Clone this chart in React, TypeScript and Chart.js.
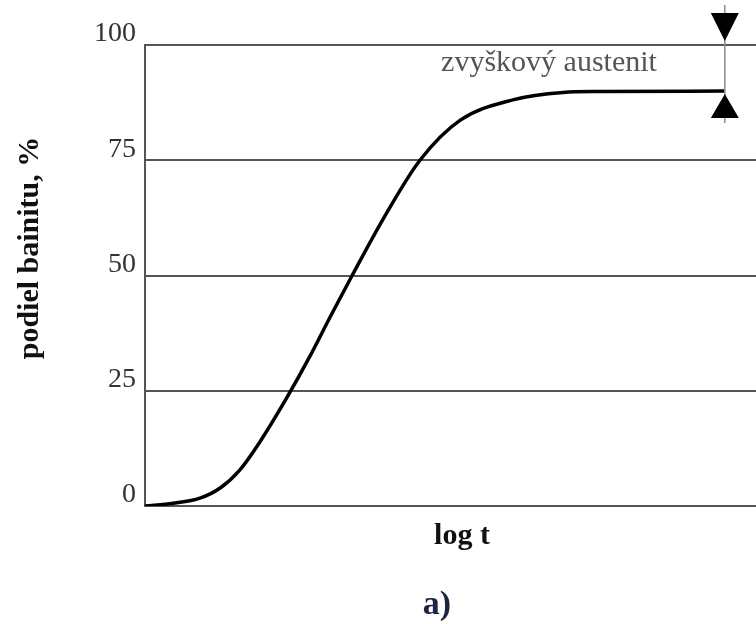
import React, { useEffect, useRef } from "react";
import { Chart, registerables } from "chart.js";

Chart.register(...registerables);

// log t (arbitrary units) and bainite fraction (%)
const logT = [0, 0.46, 0.9, 1.23, 1.55, 1.88, 2.3, 2.7, 3.03, 3.39, 3.93, 4.5, 5.16, 6.02, 6.84, 7.45, 9.49];
const bainite = [0, 0.6, 1.7, 3.9, 7.8, 13.9, 23, 32.5, 41, 50, 63, 75, 83.7, 88.1, 89.7, 89.9, 90];
const yTicks = [0, 25, 50, 75, 100];
const residualX = 9.49;
const residualFrom = 90;
const residualTo = 100;
const residualLabel = "zvyškový austenit";
const yTitle = "podiel bainitu, %";
const xTitle = "log t";
const panelLabel = "a)";

const SERIF = '"Liberation Serif", "Times New Roman", serif';

export default function App() {
  const ref = useRef<HTMLCanvasElement | null>(null);

  useEffect(() => {
    document.body.style.margin = "0";
    const canvas = ref.current;
    if (!canvas) return;

    const overlay = {
      id: "overlay",
      afterDraw(chart: any) {
        const { ctx, chartArea, scales } = chart;
        const xs = scales.x;
        const ys = scales.y;
        ctx.save();
        // residual austenite dimension arrow
        const ax = xs.getPixelForValue(residualX);
        const yTop = ys.getPixelForValue(residualTo);
        const yBot = ys.getPixelForValue(residualFrom);
        ctx.strokeStyle = "#8a8a8a";
        ctx.lineWidth = 1.5;
        ctx.beginPath();
        ctx.moveTo(ax, yTop - 40);
        ctx.lineTo(ax, yBot + 32);
        ctx.stroke();
        ctx.fillStyle = "#000";
        ctx.beginPath();
        ctx.moveTo(ax - 14, yTop - 32);
        ctx.lineTo(ax + 14, yTop - 32);
        ctx.lineTo(ax, yTop - 4);
        ctx.closePath();
        ctx.fill();
        ctx.beginPath();
        ctx.moveTo(ax - 14, yBot + 27);
        ctx.lineTo(ax + 14, yBot + 27);
        ctx.lineTo(ax, yBot + 3);
        ctx.closePath();
        ctx.fill();

        // residual label
        ctx.fillStyle = "#555";
        ctx.font = `30px ${SERIF}`;
        ctx.textAlign = "center";
        ctx.textBaseline = "middle";
        ctx.fillText(residualLabel, 549, (yTop + yBot) / 2 - 5);

        // y title
        ctx.save();
        ctx.translate(30, 248);
        ctx.rotate(-Math.PI / 2);
        ctx.fillStyle = "#111";
        ctx.font = `bold 30px ${SERIF}`;
        ctx.textAlign = "center";
        ctx.textBaseline = "middle";
        ctx.fillText(yTitle, 0, 0);
        ctx.restore();

        // x title
        ctx.fillStyle = "#111";
        ctx.font = `bold 30px ${SERIF}`;
        ctx.textAlign = "center";
        ctx.textBaseline = "middle";
        ctx.fillText(xTitle, 462, chartArea.bottom + 30);

        // panel label
        ctx.fillStyle = "#1c2444";
        ctx.font = `bold 34px ${SERIF}`;
        ctx.fillText(panelLabel, 437, chartArea.bottom + 99);
        ctx.restore();
      },
    };

    const chart = new Chart(canvas, {
      type: "line",
      data: {
        datasets: [
          {
            data: logT.map((x, i) => ({ x, y: bainite[i] })),
            borderColor: "#000",
            borderWidth: 3.5,
            pointRadius: 0,
            fill: false,
            cubicInterpolationMode: "monotone",
          },
        ],
      },
      options: {
        animation: false,
        responsive: false,
        layout: { padding: { top: 45, right: 0, left: 0, bottom: 0 } },
        plugins: { legend: { display: false }, tooltip: { enabled: false } },
        scales: {
          x: {
            type: "linear",
            min: 0,
            max: 10,
            grid: { display: false },
            border: { display: true, color: "#555", width: 2 },
            ticks: { display: false },
            afterFit: (s: any) => {
              s.height = 118;
            },
          },
          y: {
            min: 0,
            max: 100,
            afterBuildTicks: (s: any) => {
              s.ticks = yTicks.map((v) => ({ value: v }));
            },
            grid: { color: "#555", lineWidth: 2, drawTicks: false },
            border: { display: true, color: "#555", width: 2 },
            ticks: {
              padding: 9,
              labelOffset: -11,
              color: "#333",
              font: { family: SERIF, size: 28 },
            },
            afterFit: (s: any) => {
              s.width = 145;
            },
          },
        },
      },
      plugins: [overlay],
    });
    return () => chart.destroy();
  }, []);

  return (
    <div style={{ position: "absolute", left: 0, top: 0, width: 756, height: 624, background: "#fff" }}>
      <canvas ref={ref} width={756} height={624} />
    </div>
  );
}
